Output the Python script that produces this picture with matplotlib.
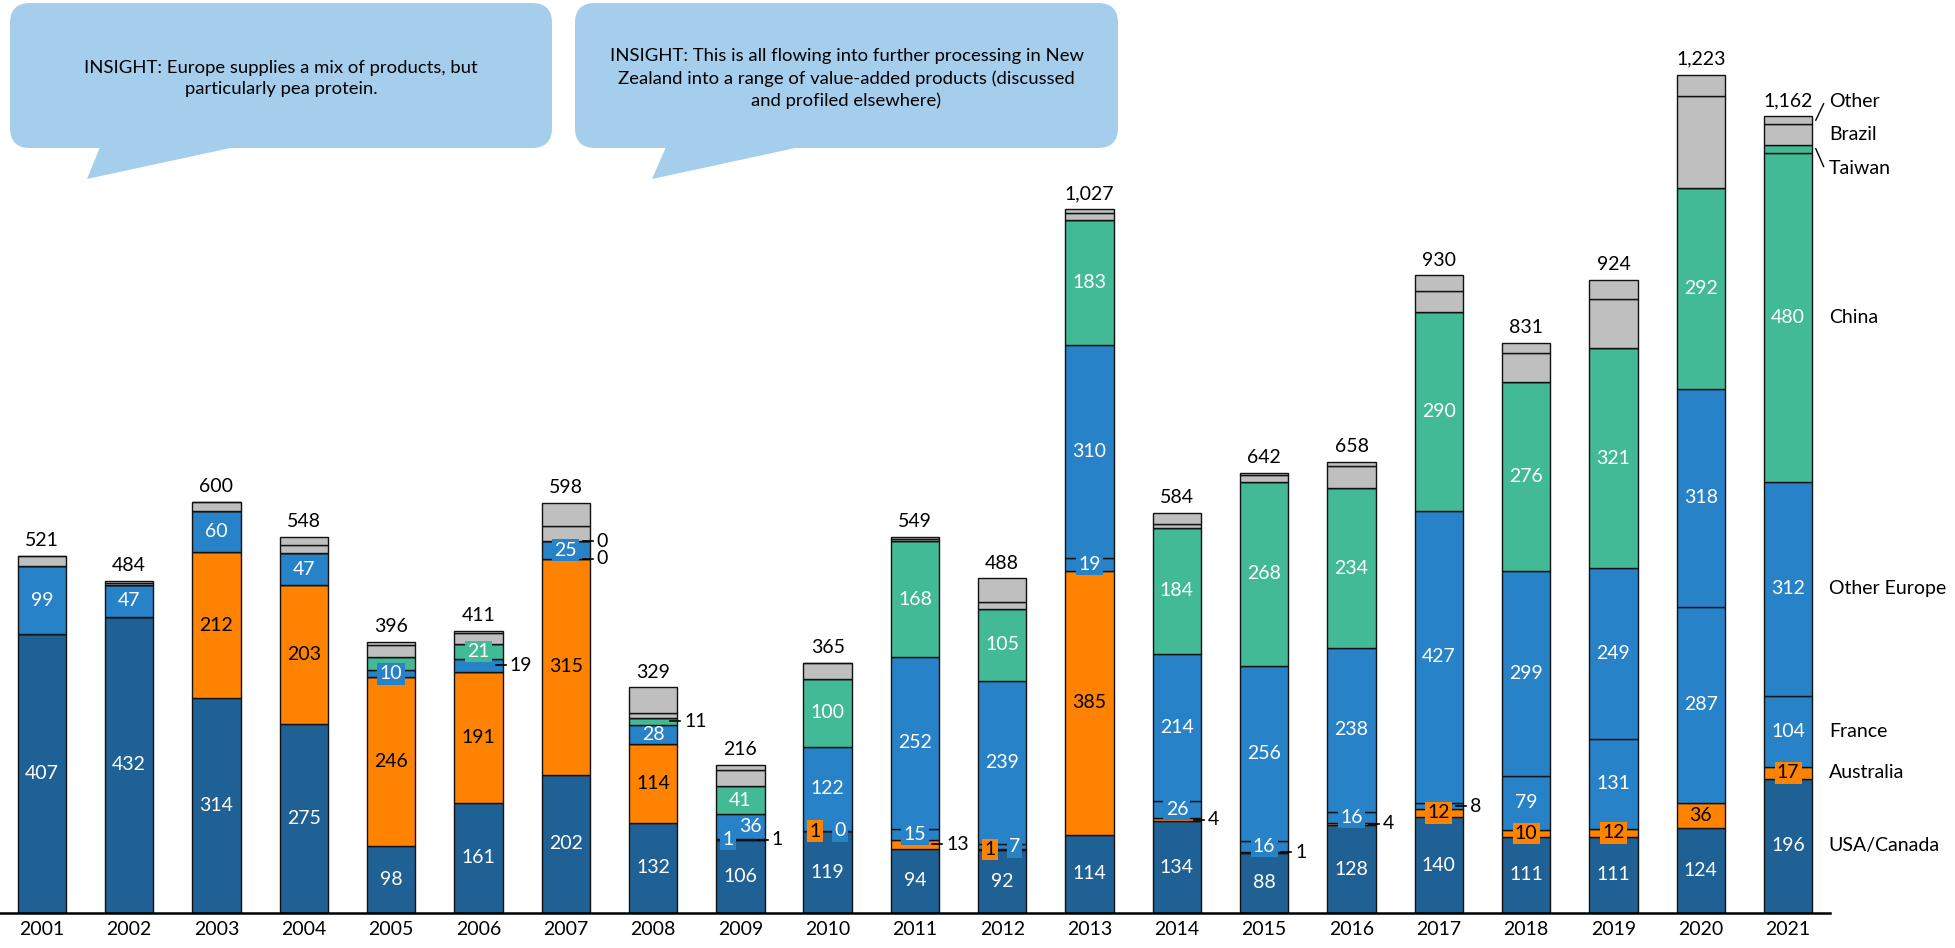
import matplotlib.pyplot as plt
from matplotlib.patches import FancyBboxPatch, Polygon

plt.rcParams['font.family'] = ['Lato', 'DejaVu Sans']

# tonnes by source, stacked bottom to top
years = list(range(2001, 2022))
usa_canada = [407, 432, 314, 275, 98, 161, 202, 132, 106, 119, 94, 92, 114, 134, 88, 128, 140, 111, 111, 124, 196]
australia = [0, 0, 212, 203, 246, 191, 315, 114, 1, 1, 13, 1, 385, 4, 1, 4, 12, 10, 12, 36, 17]
france = [0, 0, 0, 0, 0, 0, 0, 0, 1, 0, 15, 7, 19, 26, 16, 16, 8, 79, 131, 287, 104]
other_europe = [99, 47, 60, 47, 10, 19, 25, 28, 36, 122, 252, 239, 310, 214, 256, 238, 427, 299, 249, 318, 312]
china = [0, 0, 0, 0, 20, 21, 0, 11, 41, 100, 168, 105, 183, 184, 268, 234, 290, 276, 321, 292, 480]
taiwan = [0, 0, 0, 0, 0, 0, 0, 0, 0, 0, 0, 0, 0, 0, 0, 0, 0, 0, 0, 0, 12]
brazil = [15, 3, 14, 12, 17, 16, 22, 7, 23, 22, 3, 9, 10, 5, 10, 32, 31, 42, 72, 135, 30]
other = [0, 2, 0, 11, 5, 3, 34, 37, 8, 1, 4, 35, 6, 17, 3, 6, 22, 14, 28, 31, 11]

names = ['USA/Canada', 'Australia', 'France', 'Other Europe', 'China', 'Taiwan', 'Brazil', 'Other']
series = [usa_canada, australia, france, other_europe, china, taiwan, brazil, other]

DARK = '#1F6194'
BLUE = '#2882C8'
ORANGE = '#FF8200'
GREEN = '#43BA96'
GREY = '#BFBFBF'
colors = [DARK, ORANGE, BLUE, BLUE, GREEN, GREEN, GREY, GREY]
text_colors = ['white', 'black', 'white', 'white', 'white', 'white', 'black', 'black']

# small segments get a boxed label (with sideways nudge) or a leader label
boxed = {
    ('Other Europe', 2005): 0, ('China', 2006): 0, ('Other Europe', 2007): 0,
    ('France', 2009): -0.14, ('Australia', 2010): -0.14, ('France', 2010): 0.14,
    ('France', 2011): 0, ('Australia', 2012): -0.14, ('France', 2012): 0.14,
    ('France', 2013): 0, ('France', 2014): 0, ('France', 2015): 0, ('France', 2016): 0,
    ('Australia', 2017): 0, ('Australia', 2018): 0, ('Australia', 2019): 0,
    ('Australia', 2021): 0,
}
leader = [('Other Europe', 2006), ('China', 2007), ('France', 2007), ('China', 2008),
          ('Australia', 2009), ('Australia', 2011), ('Australia', 2014),
          ('Australia', 2015), ('Australia', 2016), ('France', 2017)]
nudged = {('Other Europe', 2009): 0.12}
MIN_PLAIN = 28

fig = plt.figure(figsize=(19.56, 9.48), dpi=100)
ax = fig.add_axes([0, 35 / 948, 1830 / 1956, 913 / 948])

x = list(range(len(years)))
width = 0.554
bottom = [0] * len(years)
for name, vals, col, tcol in zip(names, series, colors, text_colors):
    ax.bar(x, vals, width, bottom=bottom, color=col, edgecolor='#111111', linewidth=1.0, zorder=2)
    for i, (v, b) in enumerate(zip(vals, bottom)):
        key = (name, years[i])
        yc = b + v / 2
        if key in boxed:
            ax.text(i + boxed[key], yc, str(v), ha='center', va='center', fontsize=14, color=tcol,
                    zorder=4, bbox=dict(boxstyle='square,pad=0.12', fc=col, ec='none'))
        elif key in leader:
            xr = i + width / 2
            ax.plot([xr - 0.08, xr + 0.035], [yc, yc], color='black', lw=1.2, zorder=3,
                    clip_on=False)
            ax.text(xr + 0.08, yc, str(v), ha='left', va='center', fontsize=14, color='black', zorder=4)
        elif v >= MIN_PLAIN and col != GREY:
            ax.text(i + nudged.get(key, 0), yc, str(v), ha='center', va='center', fontsize=14,
                    color=tcol, zorder=4)
    bottom = [b + v for b, v in zip(bottom, vals)]

totals = bottom
for i, t in enumerate(totals):
    ax.annotate(f'{t:,}', (i, t), xytext=(0, 5), textcoords='offset points',
                ha='center', va='bottom', fontsize=14)

# series names beside the last bar
last = len(years) - 1
xr = last + width / 2
base = 0
for name, vals in zip(names, series):
    v = vals[last]
    yc = base + v / 2
    base += v
    ty = yc
    if name == 'Other':
        ty = yc + 27
    elif name == 'Taiwan':
        ty = yc - 29
    if ty != yc:
        ax.plot([xr + 0.04, xr + 0.13], [yc, ty + (-3 if ty > yc else 3)], color='black', lw=1,
                clip_on=False)
    ax.text(xr + 0.19, ty, name, ha='left', va='center', fontsize=14, clip_on=False)

ax.set_xlim(-0.479, 20.48)
ax.set_ylim(0, 913 / 0.6855)
ax.set_xticks(x)
ax.set_xticklabels([str(y) for y in years])
ax.tick_params(axis='x', length=0, pad=6, labelsize=14)
ax.set_yticks([])
for side in ['left', 'right', 'top']:
    ax.spines[side].set_visible(False)
ax.spines['bottom'].set_linewidth(1.8)
ax.patch.set_alpha(0)

# speech bubbles drawn in pixel space
ov = fig.add_axes([0, 0, 1, 1], zorder=-1)
ov.set_xlim(0, 1956)
ov.set_ylim(948, 0)
ov.axis('off')
BUBBLE = '#A5CEEC'
bubbles = [
    ((10, 3, 542, 145), [(100, 147), (235, 147), (87, 179)],
     'INSIGHT: Europe supplies a mix of products, but\nparticularly pea protein.'),
    ((575, 3, 543, 145), [(666, 147), (800, 147), (652, 179)],
     'INSIGHT: This is all flowing into further processing in New\n'
     'Zealand into a range of value-added products (discussed\nand profiled elsewhere)'),
]
for (bx, by, bw, bh), tail, txt in bubbles:
    ov.add_patch(FancyBboxPatch((bx + 20, by + 20), bw - 40, bh - 40,
                                boxstyle='round,pad=20', fc=BUBBLE, ec='none'))
    ov.add_patch(Polygon(tail, closed=True, fc=BUBBLE, ec='none'))
    ov.text(bx + bw / 2, by + bh / 2 + 3, txt, ha='center', va='center', fontsize=13.3,
            linespacing=1.42)

fig.savefig('out.png', dpi=100)
